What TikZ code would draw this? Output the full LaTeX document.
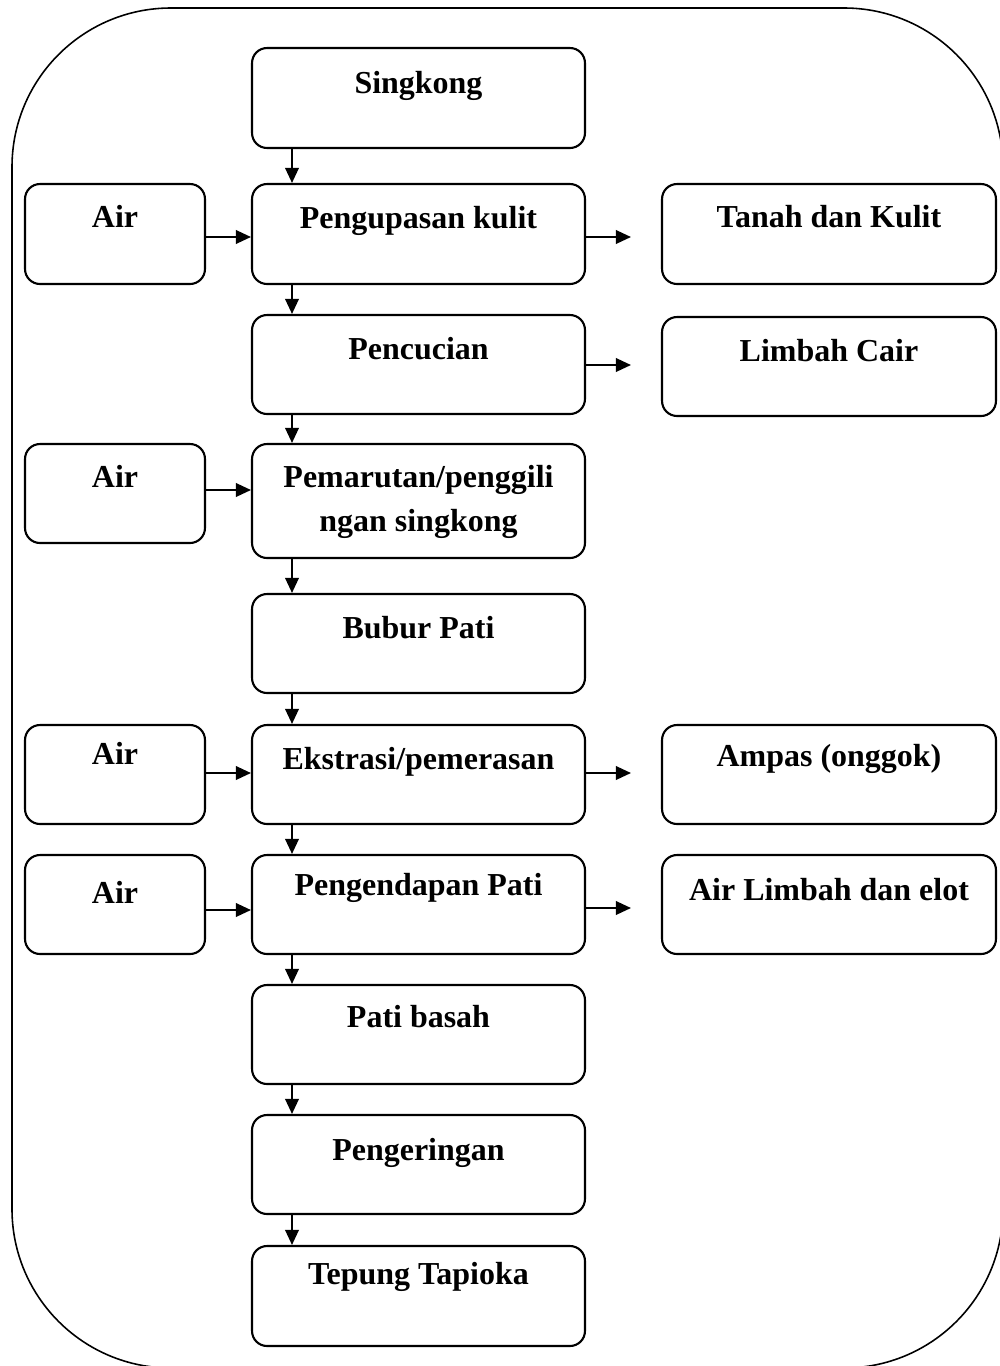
\documentclass[tikz,border=0pt]{standalone}
\usepackage{fontspec}
\setmainfont{Liberation Serif}
\usetikzlibrary{arrows.meta}
\begin{document}
\begin{tikzpicture}[x=0.02cm,y=-0.02cm,
  box/.style={draw, line width=1.2pt, rounded corners=0.3cm, inner sep=0pt},
  mainbox/.style={box, minimum width=6.66cm, minimum height=2cm},
  airbox/.style={box, minimum width=3.6cm, minimum height=2cm},
  outbox/.style={box, minimum width=6.68cm, minimum height=2cm},
  lbl/.style={font=\fontsize{18.2}{24.5}\selectfont\bfseries, inner sep=0pt, align=center, anchor=base},
  arr/.style={line width=1.1pt, -{Triangle[length=0.3cm,width=0.27cm]}}]
\useasboundingbox (0,0) rectangle (1000,1366);
\begin{scope}
\clip (0,0) rectangle (1000,1366);
\draw[line width=0.9pt, rounded corners=3.18cm] (12,8) rectangle (1003,1368);
\end{scope}

% main column
\node[mainbox] (sing) at (418.5,98) {};
\node[mainbox] (peng) at (418.5,234) {};
\node[mainbox, minimum height=1.98cm] (cuci) at (418.5,364.5) {};
\node[mainbox, minimum height=2.28cm] (marut) at (418.5,501) {};
\node[mainbox, minimum height=1.98cm] (bubur) at (418.5,643.5) {};
\node[mainbox, minimum height=1.98cm] (eks) at (418.5,774.5) {};
\node[mainbox, minimum height=1.98cm] (endap) at (418.5,904.5) {};
\node[mainbox, minimum height=1.98cm] (basah) at (418.5,1034.5) {};
\node[mainbox, minimum height=1.98cm] (kering) at (418.5,1164.5) {};
\node[mainbox] (tepung) at (418.5,1296) {};

% left inputs
\node[airbox] (air1) at (115,234) {};
\node[airbox, minimum height=1.98cm] (air2) at (115,493.5) {};
\node[airbox, minimum height=1.98cm] (air3) at (115,774.5) {};
\node[airbox, minimum height=1.98cm] (air4) at (115,904.5) {};

% right outputs
\node[outbox] (tanah) at (829,234) {};
\node[outbox, minimum height=1.98cm] (limbah) at (829,366.5) {};
\node[outbox, minimum height=1.98cm] (ampas) at (829,774.5) {};
\node[outbox, minimum height=1.98cm] (airlimbah) at (829,904.5) {};

% labels
\node[lbl] (singT) at (418.5,93) {Singkong};
\node[lbl] (pengT) at (418.5,228) {Pengupasan kulit};
\node[lbl] (cuciT) at (418.5,359) {Pencucian};
\node[lbl] (marutT) at (418.5,531) {Pemarutan/penggili\\ngan singkong};
\node[lbl] (buburT) at (418.5,638) {Bubur Pati};
\node[lbl] (eksT) at (418.5,769) {Ekstrasi/pemerasan};
\node[lbl] (endapT) at (418.5,895) {Pengendapan Pati};
\node[lbl] (basahT) at (418.5,1027) {Pati basah};
\node[lbl] (keringT) at (418.5,1160) {Pengeringan};
\node[lbl] (tepungT) at (418.5,1284) {Tepung Tapioka};
\node[lbl] (air1T) at (115,227) {Air};
\node[lbl] (air2T) at (115,487) {Air};
\node[lbl] (air3T) at (115,764) {Air};
\node[lbl] (air4T) at (115,903) {Air};
\node[lbl] (tanahT) at (829,227) {Tanah dan Kulit};
\node[lbl] (limbahT) at (829,361) {Limbah Cair};
\node[lbl] (ampasT) at (829,766) {Ampas (onggok)};
\node[lbl] (airlimbahT) at (829,900) {Air Limbah dan elot};

% vertical flow
\foreach \a/\b in {sing/peng, peng/cuci, cuci/marut, marut/bubur, bubur/eks, eks/endap, endap/basah, basah/kering, kering/tepung}
  \draw[arr] (\a.south -| 292,0) -- (\b.north -| 292,0);

% inputs
\draw[arr] (air1.east |- 0,237) -- (peng.west |- 0,237);
\draw[arr] (air2.east |- 0,490) -- (marut.west |- 0,490);
\draw[arr] (air3.east |- 0,773) -- (eks.west |- 0,773);
\draw[arr] (air4.east |- 0,910) -- (endap.west |- 0,910);

% outputs
\draw[arr] (peng.east |- 0,237) -- ([xshift=-0.6cm]tanah.west |- 0,237);
\draw[arr] (cuci.east |- 0,365) -- ([xshift=-0.6cm]limbah.west |- 0,365);
\draw[arr] (eks.east |- 0,773) -- ([xshift=-0.6cm]ampas.west |- 0,773);
\draw[arr] (endap.east |- 0,908) -- ([xshift=-0.6cm]airlimbah.west |- 0,908);
\end{tikzpicture}
\end{document}
